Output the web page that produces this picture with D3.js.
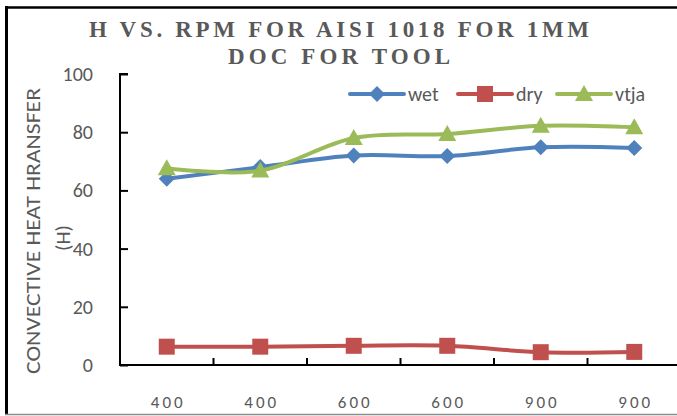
<!DOCTYPE html>
<html>
<head>
<meta charset="utf-8">
<script src="https://cdn.jsdelivr.net/npm/d3@7"></script>
<style>
  html, body { margin: 0; padding: 0; background: #fff; }
  svg { display: block; }
</style>
</head>
<body>
<svg id="chart" width="677" height="416"></svg>
<script>
// Category labels (spindle speed, rpm) and the three cooling conditions
const categories = ["400", "400", "600", "600", "900", "900"];
const wet  = [64.0, 68.0, 72.0, 71.8, 74.8, 74.6];
const dry  = [6.3, 6.3, 6.6, 6.6, 4.4, 4.5];
const vtja = [67.6, 66.8, 78.0, 79.4, 82.2, 81.7];
const yTicks = [0, 20, 40, 60, 80, 100];
const titleLines = ["H VS. RPM FOR AISI 1018 FOR 1MM", "DOC FOR TOOL"];
const yTitleLines = ["CONVECTIVE HEAT HRANSFER", "(H)"];

const series = [
  { name: "wet",  values: wet,  color: "#4F81BD", marker: "diamond" },
  { name: "dry",  values: dry,  color: "#C0504D", marker: "square" },
  { name: "vtja", values: vtja, color: "#9BBB59", marker: "triangle" }
];

const svg = d3.select("#chart");
const textGray = "#595959";
const sans = "Carlito, Lato, 'Open Sans', sans-serif";

// Plot geometry
const plot = { left: 120, right: 681, top: 74, bottom: 365 };

const x = d3.scaleBand()
  .domain(d3.range(categories.length))
  .range([plot.left, plot.right])
  .padding(0);
const y = d3.scaleLinear().domain([0, 100]).range([plot.bottom, plot.top]);
const cx = i => x(i) + x.bandwidth() / 2;

// Chart frame
svg.append("line").attr("x1", 5).attr("x2", 677).attr("y1", 7.5).attr("y2", 7.5)
  .attr("stroke", "#000").attr("stroke-width", 2.5);
svg.append("line").attr("x1", 6.5).attr("x2", 6.5).attr("y1", 6).attr("y2", 415)
  .attr("stroke", "#000").attr("stroke-width", 3);
svg.append("line").attr("x1", 5).attr("x2", 677).attr("y1", 414.5).attr("y2", 414.5)
  .attr("stroke", "#8c8c8c").attr("stroke-width", 1.5);

// Title
const title = svg.append("text")
  .attr("text-anchor", "middle")
  .attr("font-family", "'Liberation Serif', 'Times New Roman', serif")
  .attr("font-weight", "bold")
  .attr("font-size", 23)
  .attr("fill", textGray);
title.append("tspan").attr("x", 339).attr("y", 37)
  .attr("textLength", 500).attr("lengthAdjust", "spacing").text(titleLines[0]);
title.append("tspan").attr("x", 339).attr("y", 64)
  .attr("textLength", 222).attr("lengthAdjust", "spacing").text(titleLines[1]);

// Y axis: ticks point into the plot
const yAxis = d3.axisRight(y).tickValues(yTicks).tickSize(8).tickFormat("");
const yg = svg.append("g").attr("transform", `translate(${plot.left},0)`).call(yAxis);
yg.select(".domain").attr("stroke", "#000").attr("stroke-width", 2)
  .attr("d", `M8,${plot.top}H0V${plot.bottom}`);
yg.selectAll(".tick line").attr("stroke", "#000").attr("stroke-width", 2);

svg.append("g").selectAll("text").data(yTicks).join("text")
  .attr("x", 93).attr("y", d => y(d)).attr("dy", "0.35em")
  .attr("text-anchor", "end")
  .attr("font-family", sans).attr("font-size", 20).attr("fill", textGray)
  .text(d => d);

// X axis: ticks between categories, pointing up
const xg = svg.append("g");
xg.append("line").attr("x1", plot.left - 1).attr("x2", 677)
  .attr("y1", plot.bottom).attr("y2", plot.bottom)
  .attr("stroke", "#000").attr("stroke-width", 2);
xg.selectAll("line.tick").data(d3.range(1, categories.length)).join("line")
  .attr("class", "tick")
  .attr("x1", i => x(i)).attr("x2", i => x(i))
  .attr("y1", plot.bottom).attr("y2", plot.bottom - 7)
  .attr("stroke", "#000").attr("stroke-width", 2);
xg.selectAll("text").data(categories).join("text")
  .attr("x", (d, i) => cx(i) + 1.5).attr("y", 408)
  .attr("text-anchor", "middle")
  .attr("font-family", sans).attr("font-size", 17)
  .attr("letter-spacing", 3)
  .attr("fill", textGray)
  .text(d => d);

// Y axis title
const yt = svg.append("text")
  .attr("transform", "rotate(-90)")
  .attr("text-anchor", "middle")
  .attr("font-family", sans).attr("font-size", 21).attr("fill", textGray);
yt.append("tspan").attr("x", -231).attr("y", 40)
  .attr("textLength", 286).attr("lengthAdjust", "spacingAndGlyphs").text(yTitleLines[0]);
yt.append("tspan").attr("x", -238).attr("y", 70).text(yTitleLines[1]);

// Marker shapes
function markerPath(type) {
  if (type === "diamond") return "M0,-8L8,0L0,8L-8,0Z";
  if (type === "square") return "M-8,-8H8V8H-8Z";
  return "M0,-9L9,7H-9Z";
}

// Smoothed series lines
const line = d3.line()
  .x((d, i) => cx(i))
  .y(d => y(d))
  .curve(d3.curveCatmullRom.alpha(0));

series.forEach(s => {
  const g = svg.append("g");
  g.append("path").datum(s.values)
    .attr("d", line)
    .attr("fill", "none")
    .attr("stroke", s.color)
    .attr("stroke-width", 4)
    .attr("stroke-linejoin", "round")
    .attr("stroke-linecap", "round");
  g.selectAll("path.mk").data(s.values).join("path")
    .attr("class", "mk")
    .attr("transform", (d, i) => `translate(${cx(i)},${y(d)})`)
    .attr("d", markerPath(s.marker))
    .attr("fill", s.color);
});

// Legend
const legendItems = [
  { s: series[0], x0: 350 },
  { s: series[1], x0: 458 },
  { s: series[2], x0: 557 }
];
const lg = svg.append("g");
legendItems.forEach(({ s, x0 }) => {
  const ly = 94;
  lg.append("line").attr("x1", x0).attr("x2", x0 + 54)
    .attr("y1", ly).attr("y2", ly)
    .attr("stroke", s.color).attr("stroke-width", 4).attr("stroke-linecap", "round");
  lg.append("path").attr("transform", `translate(${x0 + 27},${ly})`)
    .attr("d", markerPath(s.marker)).attr("fill", s.color);
  lg.append("text").attr("x", x0 + 58).attr("y", ly).attr("dy", "0.35em")
    .attr("font-family", sans).attr("font-size", 20).attr("fill", textGray)
    .text(s.name);
});
</script>
</body>
</html>
